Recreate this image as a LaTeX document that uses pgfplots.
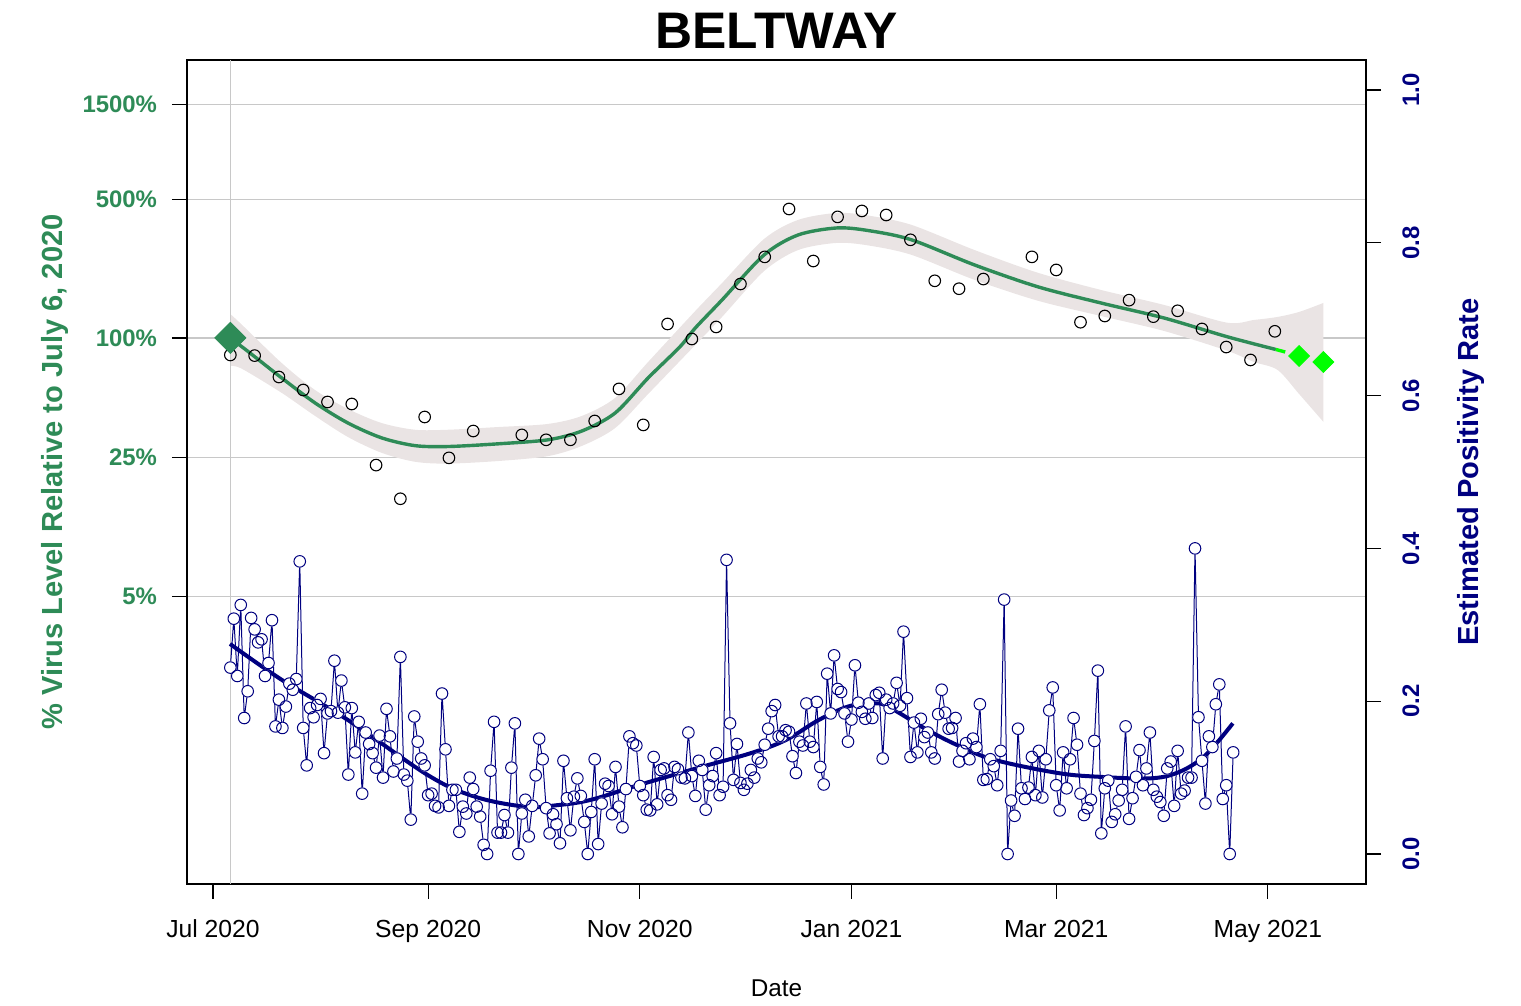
\documentclass[border=0pt]{standalone}
\usepackage{fontspec}
\setmainfont{Liberation Sans}
\usepackage{pgfplots}
\usepackage{pgfplotstable}
\pgfplotsset{compat=1.18}
\usepgfplotslibrary{fillbetween}
\definecolor{sgreen}{RGB}{46,139,87}
\definecolor{lgreen}{RGB}{0,255,0}
\definecolor{navyc}{RGB}{0,0,128}
\definecolor{bandc}{RGB}{234,228,228}
\definecolor{gridc}{RGB}{200,200,200}

\pgfplotstableread{
day pct
5 82.1
12 81.5
19 63.6
26 54.7
33 47.6
40 46.5
47 22.9
54 15.5
61 40.0
68 24.9
75 34.0
89 32.5
96 30.7
103 30.7
110 38.2
117 55.4
124 36.5
131 117.6
138 98.8
145 113.6
152 187
159 256
166 446
173 244
180 407
187 436
194 416
201 312
208 194
215 177
222 198
236 256
243 220
250 120
257 129
264 155
271 128
278 137
285 111
292 90
299 77.5
306 108
}\greenpts

\pgfplotstableread{
day pct
5 98
8.3 90.4
19.8 62.9
29.4 47.1
38.9 37.3
48.6 31.4
58.2 28.7
67.7 28.4
82.1 29.3
96.5 30.7
106.3 34.0
115.9 41.9
125.4 62.9
134.6 90.4
139.0 112.3
146.7 155.4
158.8 261.7
168.6 330
179.8 358
189.0 347
201.3 312
219.5 233
237.7 181
255.9 150
274.1 126
292.2 101.5
306.3 87.5
}\greencurve

\pgfplotstableread{
day pct
5 132
8.3 116.7
19.8 74.8
29.4 54.7
38.9 43.9
48.6 37.3
58.2 34.5
67.7 34.5
82.1 35.6
96.5 36.9
106.3 40.5
115.9 49.9
125.4 75.7
139 136.8
146.7 189
158.8 315
168.6 393
179.8 426
189 413
201.3 371
219.5 277
237.7 213
255.9 174.5
274.1 146.6
292.2 119.4
300 123.2
306.8 127.6
313 135.2
320 150.1
}\bandup

\pgfplotstableread{
day pct
5 72.3
8.3 70.0
19.8 52.9
29.4 40.5
38.9 31.7
48.6 26.4
58.2 23.8
67.7 23.3
82.1 24.0
96.5 25.4
106.3 28.6
115.9 35.2
125.4 52.2
139 92.2
146.7 127.6
158.8 217
168.6 277
179.8 301
189 292
201.3 262
219.5 196
237.7 154
255.9 129
274.1 108.4
292.2 86.3
300 75.7
306.8 69.0
313 52.2
320 37.8
}\banddown

\pgfplotstableread{
day val
5 0.244
6 0.308
7 0.233
8 0.326
9 0.178
10 0.213
11 0.309
12 0.294
13 0.277
14 0.281
15 0.233
16 0.250
17 0.306
18 0.167
19 0.202
20 0.165
21 0.193
22 0.223
23 0.215
24 0.229
25 0.383
26 0.165
27 0.116
28 0.191
29 0.179
30 0.195
31 0.203
32 0.132
33 0.184
34 0.187
35 0.253
36 0.185
37 0.227
38 0.192
39 0.104
40 0.191
41 0.133
42 0.173
43 0.079
44 0.159
45 0.144
46 0.132
47 0.113
48 0.155
49 0.100
50 0.190
51 0.154
52 0.108
53 0.125
54 0.258
55 0.104
56 0.096
57 0.045
58 0.180
59 0.147
60 0.125
61 0.116
62 0.077
63 0.079
64 0.063
65 0.061
66 0.210
67 0.137
68 0.063
69 0.084
70 0.084
71 0.029
72 0.062
73 0.053
74 0.100
75 0.085
76 0.062
77 0.049
78 0.012
79 0.000
80 0.109
81 0.173
82 0.028
83 0.028
84 0.051
85 0.028
86 0.113
87 0.171
88 0.000
89 0.053
90 0.071
91 0.023
92 0.063
93 0.103
94 0.151
95 0.124
96 0.060
97 0.027
98 0.052
99 0.039
100 0.014
101 0.122
102 0.073
103 0.031
104 0.075
105 0.099
106 0.076
107 0.042
108 0.000
109 0.055
110 0.124
111 0.013
112 0.066
113 0.092
114 0.089
115 0.052
116 0.114
117 0.062
118 0.035
119 0.085
120 0.154
121 0.145
122 0.142
123 0.089
124 0.077
125 0.058
126 0.057
127 0.127
128 0.065
129 0.110
130 0.112
131 0.077
132 0.071
133 0.114
134 0.111
135 0.100
136 0.099
137 0.159
138 0.102
139 0.076
140 0.122
141 0.110
142 0.058
143 0.090
144 0.102
145 0.132
146 0.077
147 0.088
148 0.385
149 0.171
150 0.097
151 0.144
152 0.093
153 0.084
154 0.092
155 0.110
156 0.100
157 0.125
158 0.120
159 0.143
160 0.164
161 0.187
162 0.195
163 0.154
164 0.154
165 0.162
166 0.160
167 0.128
168 0.106
169 0.147
170 0.142
171 0.197
172 0.147
173 0.140
174 0.199
175 0.114
176 0.091
177 0.236
178 0.184
179 0.260
180 0.216
181 0.212
182 0.184
183 0.147
184 0.176
185 0.247
186 0.198
187 0.186
188 0.177
189 0.197
190 0.178
191 0.208
192 0.211
193 0.125
194 0.202
195 0.191
196 0.197
197 0.224
198 0.194
199 0.291
200 0.204
201 0.127
202 0.172
203 0.133
204 0.177
205 0.153
206 0.159
207 0.133
208 0.125
209 0.183
210 0.215
211 0.185
212 0.164
213 0.165
214 0.178
215 0.121
216 0.135
217 0.145
218 0.124
219 0.151
220 0.140
221 0.196
222 0.097
223 0.098
224 0.124
225 0.115
226 0.090
227 0.135
228 0.333
229 0.000
230 0.070
231 0.050
232 0.164
233 0.086
234 0.072
235 0.087
236 0.127
237 0.077
238 0.135
239 0.074
240 0.124
241 0.188
242 0.218
243 0.090
244 0.057
245 0.133
246 0.086
247 0.124
248 0.178
249 0.143
250 0.079
251 0.051
252 0.060
253 0.071
254 0.148
255 0.240
256 0.027
257 0.086
258 0.096
259 0.042
260 0.052
261 0.070
262 0.084
263 0.167
264 0.046
265 0.073
266 0.101
267 0.136
268 0.090
269 0.112
270 0.159
271 0.084
272 0.075
273 0.068
274 0.050
275 0.112
276 0.121
277 0.063
278 0.135
279 0.079
280 0.083
281 0.100
282 0.100
283 0.400
284 0.179
285 0.122
286 0.066
287 0.154
288 0.140
289 0.196
290 0.222
291 0.072
292 0.090
293 0.000
294 0.133
}\bluedata

\pgfplotstableread{
day val
4.9 0.275
19.8 0.228
39 0.175
62 0.103
75.5 0.075
90 0.062
99.4 0.064
109 0.071
122.5 0.090
140.8 0.114
155 0.132
165 0.149
174.4 0.175
183 0.193
190 0.197
194.5 0.193
206 0.162
215.7 0.140
225.4 0.123
243.5 0.106
255.6 0.101
270 0.099
277.7 0.106
284.4 0.123
289.2 0.145
293.9 0.171
}\bluecurve

\pgfplotsset{
  commonaxis/.style={
    at={(93.5bp,61bp)}, anchor=south west,
    width=589.5bp, height=412bp, scale only axis,
    xmin=-7.49, xmax=332.28,
    axis line style={line width=0.6bp, black},
    tick align=outside, major tick length=7.5bp,
    tick style={black, line width=0.6bp},
  }
}

\begin{document}
\begin{tikzpicture}
\begin{axis}[
  commonaxis,
  ymode=log, ymin=0.1781, ymax=2510,
  yminorticks=false,
  xtick={0,62,123,184,243,304},
  xticklabels={Jul 2020,Sep 2020,Nov 2020,Jan 2021,Mar 2021,May 2021},
  ytick={5,25,100,500,1500},
  yticklabels={5\%,25\%,100\%,500\%,1500\%},
  xtick pos=left, ytick pos=left,
  ymajorgrids=true,
  major grid style={gridc, line width=0.55bp},
  xticklabel style={font=\fontsize{12.4}{14}\selectfont, anchor=base, yshift=-19.5bp},
  yticklabel style={font=\fontsize{12}{14}\selectfont\bfseries, text=sgreen, anchor=east, inner xsep=0pt, xshift=-7.3bp},
  title={BELTWAY},
  every axis title/.style={at={(axis description cs:0.5,1)}, yshift=5.5bp, anchor=base, font=\fontsize{25.8}{30}\selectfont\bfseries},
  xlabel={Date},
  every axis x label/.style={at={(axis description cs:0.5,0)}, yshift=-56bp, anchor=base, font=\fontsize{12.2}{14}\selectfont},
  ylabel={\% Virus Level Relative to July 6, 2020},
  every axis y label/.style={at={(axis description cs:0,0.5)}, xshift=-62.5bp, rotate=90, anchor=base, font=\fontsize{14.6}{17}\selectfont\bfseries, text=sgreen},
]
\addplot[gridc, line width=0.55bp] coordinates {(5,0.1781) (5,2510)};
\addplot[name path=up, draw=none, smooth, tension=0.5, forget plot] table[x=day,y=pct] {\bandup};
\addplot[name path=down, draw=none, smooth, tension=0.5, forget plot] table[x=day,y=pct] {\banddown};
\addplot[bandc] fill between[of=up and down];
\addplot[sgreen, line width=1.7bp, smooth, tension=0.5] table[x=day,y=pct] {\greencurve};
\addplot[lgreen, line width=1.7bp] coordinates {(306.3,87.5) (309,85.0)};
\addplot[only marks, mark=o, mark size=2.9bp, black, line width=0.55bp] table[x=day,y=pct] {\greenpts};
\addplot[only marks, mark=square*, mark size=5.5bp, sgreen, mark options={rotate=45}] coordinates {(5,100)};
\addplot[only marks, mark=square*, mark size=3.7bp, lgreen, mark options={rotate=45}] coordinates {(313,81.2) (320,75.7)};
\end{axis}
\begin{axis}[
  commonaxis,
  ymin=-0.03927, ymax=1.03927,
  hide x axis,
  ytick pos=right,
  ytick={0,0.2,0.4,0.6,0.8,1.0},
  yticklabels={0.0,0.2,0.4,0.6,0.8,1.0},
  yticklabel style={font=\fontsize{12}{14}\selectfont\bfseries, text=navyc, xshift=19bp, rotate=90, anchor=base},
  ylabel={Estimated Positivity Rate},
  every axis y label/.style={at={(axis description cs:1,0.5)}, xshift=56bp, rotate=90, anchor=base, font=\fontsize{14.6}{17}\selectfont\bfseries, text=navyc},
]
\addplot[navyc, line width=0.5bp] table[x=day,y=val] {\bluedata};
\addplot[only marks, mark=*, mark size=2.9bp, white, mark options={draw=none, fill=white}] table[x=day,y=val] {\bluedata};
\addplot[only marks, mark=o, mark size=2.9bp, navyc, line width=0.5bp] table[x=day,y=val] {\bluedata};
\addplot[navyc, line width=2bp, smooth, tension=0.6] table[x=day,y=val] {\bluecurve};
\end{axis}
\path (0,0) rectangle (760.5bp,503bp);
\end{tikzpicture}
\end{document}
